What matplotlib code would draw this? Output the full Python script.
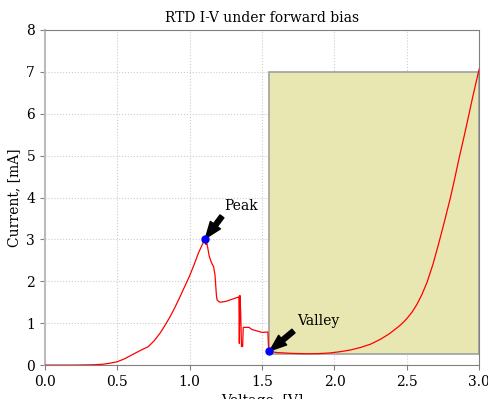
import numpy as np
import matplotlib
matplotlib.use("Agg")
import matplotlib.pyplot as plt
from matplotlib.patches import Rectangle

# I-V points (voltage in V, current in mA)
voltage = [0.0, 0.2, 0.3, 0.35, 0.4, 0.45, 0.5, 0.55, 0.61, 0.66, 0.714, 0.755,
           0.795, 0.83, 0.864, 0.9, 0.933, 0.965, 0.997, 1.03, 1.06, 1.085,
           1.106, 1.112, 1.118, 1.135, 1.15, 1.165, 1.175, 1.185, 1.19, 1.2,
           1.21, 1.25, 1.3, 1.335, 1.34, 1.343, 1.347, 1.352, 1.358, 1.362,
           1.366, 1.37, 1.41, 1.43, 1.46, 1.5, 1.54, 1.545, 1.55, 1.6, 1.7,
           1.8, 1.9, 1.97, 2.04, 2.11, 2.18, 2.25, 2.32, 2.38, 2.44, 2.47, 2.5,
           2.535, 2.57, 2.605, 2.64, 2.68, 2.72, 2.76, 2.8, 2.83, 2.863,
           2.895, 2.925, 2.955, 2.983, 3.0]
current = [0.0, 0.0, 0.005, 0.01, 0.02, 0.045, 0.08, 0.15, 0.26, 0.35, 0.44, 0.58,
           0.76, 0.95, 1.15, 1.39, 1.63, 1.87, 2.11, 2.39, 2.67, 2.86,
           3.01, 2.88, 2.93, 2.6, 2.45, 2.35, 2.15, 1.65, 1.55, 1.52,
           1.5, 1.52, 1.58, 1.62, 1.63, 0.52, 1.66, 1.3, 0.44, 0.5,
           0.45, 0.9, 0.9, 0.85, 0.82, 0.78, 0.79, 0.4, 0.33, 0.3, 0.28,
           0.27, 0.275, 0.29, 0.32, 0.36, 0.42, 0.5, 0.62, 0.75, 0.91, 1.0, 1.11,
           1.26, 1.45, 1.69, 1.98, 2.4, 2.9, 3.43, 3.98, 4.44, 4.97,
           5.45, 5.92, 6.4, 6.82, 7.07]

peak = (1.106, 3.01)
valley = (1.55, 0.33)
box_x = (1.55, 3.0)
box_y = (0.27, 7.0)

plt.rcParams['font.family'] = 'DejaVu Serif'
plt.rcParams['font.size'] = 10

fig, ax = plt.subplots(figsize=(4.88, 3.99), dpi=100)
fig.subplots_adjust(left=0.092, right=0.982, bottom=0.085, top=0.925)

ax.add_patch(Rectangle((box_x[0], box_y[0]), box_x[1] - box_x[0], box_y[1] - box_y[0],
                       facecolor='#e9e7b1', edgecolor='#a0a0a0', linewidth=1.2, zorder=1))
ax.plot(voltage, current, color='red', linewidth=0.9, zorder=3)
ax.plot([peak[0], valley[0]], [peak[1], valley[1]], 'o', color='blue',
        markersize=5, zorder=4)

ax.annotate('Peak', xy=peak, xytext=(1.24, 3.7),
            arrowprops=dict(facecolor='black', shrink=0.02, width=3.5, headwidth=9))
ax.annotate('Valley', xy=valley, xytext=(1.74, 0.95),
            arrowprops=dict(facecolor='black', shrink=0.02, width=3.5, headwidth=9))

ax.set_xlim(0, 3)
ax.set_ylim(0, 8)
ax.set_title('RTD I-V under forward bias', fontsize=10)
ax.set_xlabel('Voltage, [V]')
ax.set_ylabel('Current, [mA]')
ax.grid(True, linestyle=':', color='#cccccc', linewidth=0.8)
ax.set_axisbelow(True)
for side in ['top', 'right', 'bottom']:
    ax.spines[side].set_color('#808080')
ax.spines['left'].set_color('#bbbbbb')
ax.spines['left'].set_linewidth(1.5)
ax.tick_params(direction='out', color='#808080')

fig.savefig('out.png', dpi=100)
